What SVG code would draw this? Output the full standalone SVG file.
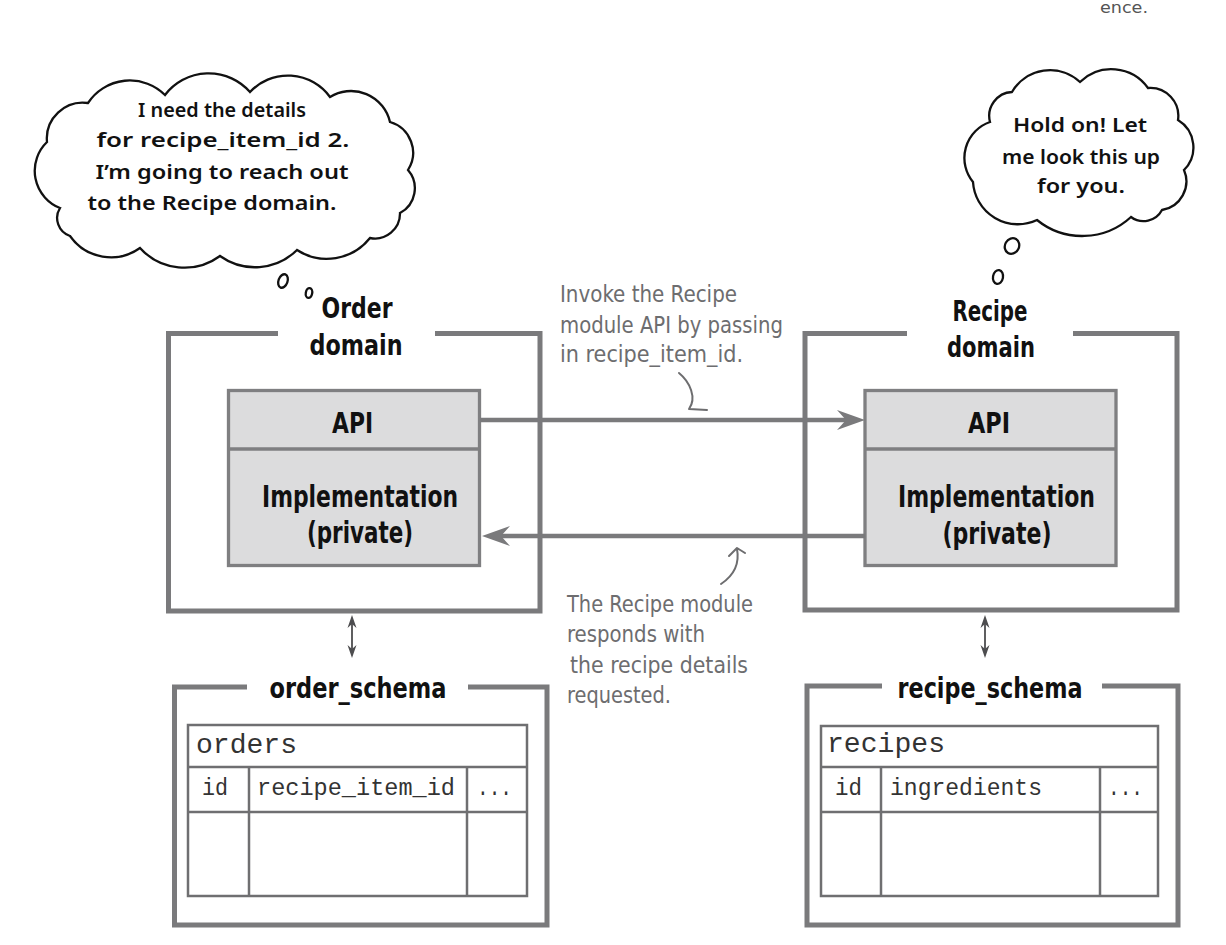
<svg xmlns="http://www.w3.org/2000/svg" width="1226" height="945" viewBox="0 0 1226 945">
<defs>
<style>
.frame{fill:none;stroke:#7a7a7c;stroke-width:5}
.inner{fill:#dcdcdd;stroke:#7f7f81;stroke-width:3.3}
.tbl{fill:none;stroke:#6f6f71;stroke-width:2.5}
.cloud{fill:#fff;stroke:#111;stroke-width:2.3}
.mk{font-family:"DejaVu Sans Condensed","DejaVu Sans",sans-serif;font-weight:bold;fill:#111;text-anchor:middle}
.cl{font-family:"Noto Sans","Lato",sans-serif;font-weight:600;font-size:20px;fill:#111;text-anchor:middle}
.ann{font-family:"DejaVu Sans Condensed","DejaVu Sans",sans-serif;font-size:23px;fill:#6d6d6f}
.mono{font-family:"Liberation Mono",monospace;fill:#333}
.conn{fill:none;stroke:#7a7a7c;stroke-width:4.5}
.dbl{fill:none;stroke:#4d4d4f;stroke-width:1.8}
.curl{fill:none;stroke:#6d6d6f;stroke-width:2;stroke-linecap:round;stroke-linejoin:round}
</style>
<marker id="ah" viewBox="-16 -12 32 24" markerWidth="32" markerHeight="24" refX="0" refY="0" markerUnits="userSpaceOnUse" orient="auto" overflow="visible">
<path d="M15,0 L-13,-10 L-4,0 L-13,10 Z" fill="#7a7a7c"/>
</marker>
<marker id="sh" viewBox="-8 -6 16 12" markerWidth="16" markerHeight="12" refX="0" refY="0" markerUnits="userSpaceOnUse" orient="auto-start-reverse" overflow="visible">
<path d="M6,0 L-7,-4.5 L-3,0 L-7,4.5 Z" fill="#4d4d4f"/>
</marker>
</defs>

<text x="1100" y="13" font-family="DejaVu Sans Condensed, DejaVu Sans, sans-serif" font-size="16" fill="#555" textLength="48" lengthAdjust="spacingAndGlyphs">ence.</text>

<g id="order-thought">
<path class="cloud" d="M47,142 A36,36 0 0 1 88,103 A50,50 0 0 1 165,95 A55,55 0 0 1 250,92 A52,52 0 0 1 330,97 A40,40 0 0 1 390,122 A32,32 0 0 1 408,170 A28,28 0 0 1 400,213 A25,25 0 0 1 370,238 A55,55 0 0 1 297,250 A60,60 0 0 1 220,256 A60,60 0 0 1 140,248 A50,50 0 0 1 70,236 A19,19 0 0 1 60,208 A40,40 0 0 1 47,142 Z"/>
<text class="cl" x="222" y="117" textLength="168" lengthAdjust="spacingAndGlyphs">I need the details</text>
<text class="cl" x="223" y="147" textLength="253" lengthAdjust="spacingAndGlyphs">for recipe_item_id 2.</text>
<text class="cl" x="222" y="179" textLength="253" lengthAdjust="spacingAndGlyphs">I’m going to reach out</text>
<text class="cl" x="212" y="210" textLength="249" lengthAdjust="spacingAndGlyphs">to the Recipe domain.</text>
<ellipse class="cloud" cx="283" cy="281" rx="4.5" ry="7" transform="rotate(20 283 281)"/>
<ellipse class="cloud" cx="309" cy="293" rx="3.2" ry="5" transform="rotate(10 309 293)"/>
</g>

<g id="recipe-thought">
<path class="cloud" d="M990,122 A24,24 0 0 1 1012,92 A44,44 0 0 1 1080,82 A45,45 0 0 1 1148,88 A28,28 0 0 1 1178,120 A32,32 0 0 1 1184,170 A29,29 0 0 1 1162,210 A21,21 0 0 1 1131,217 A72,72 0 0 1 1037,220 A45,45 0 0 1 973,182 A38,38 0 0 1 990,122 Z"/>
<text class="cl" x="1080" y="132" textLength="134" lengthAdjust="spacingAndGlyphs">Hold on! Let</text>
<text class="cl" x="1081" y="164" textLength="158" lengthAdjust="spacingAndGlyphs">me look this up</text>
<text class="cl" x="1081" y="193" textLength="88" lengthAdjust="spacingAndGlyphs">for you.</text>
<ellipse class="cloud" cx="1012" cy="246" rx="7" ry="8" transform="rotate(30 1012 246)"/>
<ellipse class="cloud" cx="998" cy="277" rx="5" ry="7" transform="rotate(10 998 277)"/>
</g>

<g id="order-domain">
<path class="frame" d="M278,333.5 H168.5 V611 H540 V333.5 H435"/>
<text class="mk" x="357" y="318" font-size="29" textLength="71" lengthAdjust="spacingAndGlyphs">Order</text>
<text class="mk" x="356" y="355" font-size="29" textLength="93" lengthAdjust="spacingAndGlyphs">domain</text>
<rect class="inner" x="228.5" y="390.5" width="251" height="175"/>
<line x1="228.5" y1="449" x2="479.5" y2="449" stroke="#7f7f81" stroke-width="3.3"/>
<text class="mk" x="352.5" y="433" font-size="28" textLength="41" lengthAdjust="spacingAndGlyphs">API</text>
<text class="mk" x="360" y="507" font-size="30" textLength="196" lengthAdjust="spacingAndGlyphs">Implementation</text>
<text class="mk" x="360" y="543" font-size="30" textLength="106" lengthAdjust="spacingAndGlyphs">(private)</text>
</g>

<g id="recipe-domain">
<path class="frame" d="M907,333.5 H805 V610 H1177 V333.5 H1073"/>
<text class="mk" x="990" y="321" font-size="29" textLength="75" lengthAdjust="spacingAndGlyphs">Recipe</text>
<text class="mk" x="991" y="357" font-size="29" textLength="88" lengthAdjust="spacingAndGlyphs">domain</text>
<rect class="inner" x="865" y="390.5" width="251" height="175"/>
<line x1="865" y1="449" x2="1116" y2="449" stroke="#7f7f81" stroke-width="3.3"/>
<text class="mk" x="989" y="433" font-size="28" textLength="42" lengthAdjust="spacingAndGlyphs">API</text>
<text class="mk" x="996.5" y="507" font-size="30" textLength="197" lengthAdjust="spacingAndGlyphs">Implementation</text>
<text class="mk" x="997" y="544" font-size="30" textLength="109" lengthAdjust="spacingAndGlyphs">(private)</text>
</g>

<g id="order-schema">
<path class="frame" d="M247,687 H174.5 V925 H547 V687 H468"/>
<text class="mk" x="358" y="698" font-size="28" textLength="177" lengthAdjust="spacingAndGlyphs">order_schema</text>
<rect class="tbl" x="188" y="725" width="339" height="171"/>
<line class="tbl" x1="188" y1="767" x2="527" y2="767"/>
<line class="tbl" x1="188" y1="812" x2="527" y2="812"/>
<line class="tbl" x1="249" y1="767" x2="249" y2="896"/>
<line class="tbl" x1="467" y1="767" x2="467" y2="896"/>
<text class="mono" x="196" y="753" font-size="27" textLength="101" lengthAdjust="spacingAndGlyphs">orders</text>
<text class="mono" x="202" y="795" font-size="23" textLength="26" lengthAdjust="spacingAndGlyphs">id</text>
<text class="mono" x="257" y="795" font-size="23" textLength="198" lengthAdjust="spacingAndGlyphs">recipe_item_id</text>
<text class="mono" x="477" y="795" font-size="23" textLength="35" lengthAdjust="spacingAndGlyphs">...</text>
</g>

<g id="recipe-schema">
<path class="frame" d="M882,686 H807 V925 H1178 V686 H1102"/>
<text class="mk" x="990" y="698" font-size="28" textLength="185" lengthAdjust="spacingAndGlyphs">recipe_schema</text>
<rect class="tbl" x="821" y="726" width="337" height="170"/>
<line class="tbl" x1="821" y1="767" x2="1158" y2="767"/>
<line class="tbl" x1="821" y1="812" x2="1158" y2="812"/>
<line class="tbl" x1="881" y1="767" x2="881" y2="896"/>
<line class="tbl" x1="1100" y1="767" x2="1100" y2="896"/>
<text class="mono" x="827" y="752" font-size="27" textLength="118" lengthAdjust="spacingAndGlyphs">recipes</text>
<text class="mono" x="835" y="795" font-size="23" textLength="27" lengthAdjust="spacingAndGlyphs">id</text>
<text class="mono" x="890" y="795" font-size="23" textLength="152" lengthAdjust="spacingAndGlyphs">ingredients</text>
<text class="mono" x="1108" y="795" font-size="23" textLength="35" lengthAdjust="spacingAndGlyphs">...</text>
</g>

<g id="connectors">
<path class="conn" d="M480,420 H850" marker-end="url(#ah)"/>
<path class="conn" d="M865,536 H497" marker-end="url(#ah)"/>
<path class="dbl" d="M352,621 V652" marker-start="url(#sh)" marker-end="url(#sh)"/>
<path class="dbl" d="M985,621 V652" marker-start="url(#sh)" marker-end="url(#sh)"/>
</g>

<g id="annotations">
<text class="ann" x="560" y="302" textLength="177" lengthAdjust="spacingAndGlyphs">Invoke the Recipe</text>
<text class="ann" x="560" y="333" textLength="223" lengthAdjust="spacingAndGlyphs">module API by passing</text>
<text class="ann" x="560" y="362" textLength="183" lengthAdjust="spacingAndGlyphs">in recipe_item_id.</text>
<path class="curl" d="M679,373 C690,382 697,398 689,409 L707,410"/>
<text class="ann" x="567" y="612" textLength="186" lengthAdjust="spacingAndGlyphs">The Recipe module</text>
<text class="ann" x="567" y="642" textLength="138" lengthAdjust="spacingAndGlyphs">responds with</text>
<text class="ann" x="570" y="673" textLength="178" lengthAdjust="spacingAndGlyphs">the recipe details</text>
<text class="ann" x="567" y="703" textLength="104" lengthAdjust="spacingAndGlyphs">requested.</text>
<path class="curl" d="M721,584 C733,576 740,565 737,549 M729,556 L737,548 L745,553"/>
</g>
</svg>
